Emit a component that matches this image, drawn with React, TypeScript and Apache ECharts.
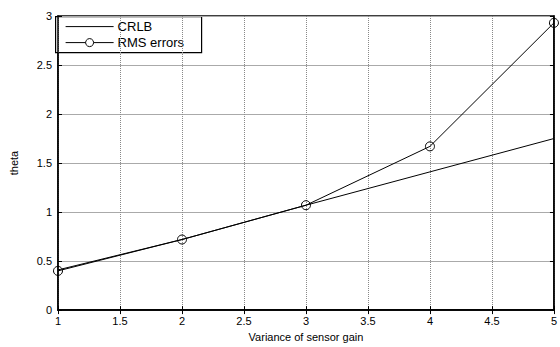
import React, { useEffect, useRef } from "react";
import * as echarts from "echarts";

const xValues = [1, 2, 3, 4, 5];
const crlb = [0.41, 0.72, 1.07, 1.41, 1.75];
const rmsErrors = [0.4, 0.72, 1.07, 1.67, 2.93];
const seriesNames = ["CRLB", "RMS errors"];
const xTitle = "Variance of sensor gain";
const yTitle = "theta";

const FONT = "'Liberation Sans', Arial, sans-serif";

export default function App() {
  const ref = useRef<HTMLDivElement>(null);
  useEffect(() => {
    if (!ref.current) return;
    const chart = echarts.init(ref.current, null, { renderer: "svg" });
    const pair = (ys: number[]) => xValues.map((x, i) => [x, ys[i]]);
    const tickStyle = { inside: true, length: 4, lineStyle: { color: "#000", width: 1 } };
    const legendX = 55;
    const legendY = 16;
    chart.setOption({
      animation: false,
      backgroundColor: "#fff",
      textStyle: { fontFamily: FONT },
      grid: {
        left: 55,
        right: 3,
        top: 16,
        bottom: 33,
        show: true,
        borderColor: "#000",
        borderWidth: 1.5,
        backgroundColor: "#fff",
      },
      graphic: [
        {
          type: "group",
          left: legendX,
          top: legendY,
          z: 100,
          children: [
            {
              type: "rect",
              shape: { x: 0, y: 0, width: 146, height: 36 },
              style: { fill: "#fff", stroke: "#000", lineWidth: 1.2 },
            },
            {
              type: "line",
              shape: { x1: 10, y1: 10, x2: 58, y2: 10 },
              style: { stroke: "#000", lineWidth: 1 },
            },
            {
              type: "text",
              x: 62,
              y: 10,
              style: {
                text: seriesNames[0],
                fontFamily: FONT,
                fontSize: 13,
                fill: "#000",
                verticalAlign: "middle",
              },
            },
            {
              type: "line",
              shape: { x1: 10, y1: 26, x2: 58, y2: 26 },
              style: { stroke: "#000", lineWidth: 1 },
            },
            {
              type: "circle",
              shape: { cx: 34, cy: 26, r: 4 },
              style: { fill: "#fff", stroke: "#000", lineWidth: 1 },
            },
            {
              type: "text",
              x: 62,
              y: 26,
              style: {
                text: seriesNames[1],
                fontFamily: FONT,
                fontSize: 13,
                fill: "#000",
                verticalAlign: "middle",
              },
            },
          ],
        },
      ],
      xAxis: [
        {
          type: "value",
          min: 1,
          max: 5,
          interval: 0.5,
          name: xTitle,
          nameLocation: "middle",
          nameGap: 14,
          nameTextStyle: { fontFamily: FONT, fontSize: 11, color: "#000" },
          axisLine: { show: true, lineStyle: { color: "#000", width: 1.5 } },
          axisTick: tickStyle,
          axisLabel: { fontFamily: FONT, fontSize: 11, color: "#000", margin: 5 },
          splitLine: { show: true, lineStyle: { color: "#888", type: "dotted", width: 1 } },
        },
        {
          type: "value",
          position: "top",
          min: 1,
          max: 5,
          interval: 0.5,
          axisLine: { show: true, lineStyle: { color: "#000", width: 1.5 } },
          axisTick: tickStyle,
          axisLabel: { show: false },
          splitLine: { show: false },
        },
      ],
      yAxis: [
        {
          type: "value",
          min: 0,
          max: 3,
          interval: 0.5,
          name: yTitle,
          nameLocation: "middle",
          nameGap: 39,
          nameTextStyle: { fontFamily: FONT, fontSize: 11, color: "#000" },
          axisLine: { show: true, lineStyle: { color: "#000", width: 1.5 } },
          axisTick: tickStyle,
          axisLabel: { fontFamily: FONT, fontSize: 11, color: "#000", margin: 6 },
          splitLine: { show: true, lineStyle: { color: "#aaa", type: "solid", width: 1 } },
        },
        {
          type: "value",
          position: "right",
          min: 0,
          max: 3,
          interval: 0.5,
          axisLine: { show: true, lineStyle: { color: "#000", width: 1.5 } },
          axisTick: tickStyle,
          axisLabel: { show: false },
          splitLine: { show: false },
        },
      ],
      series: [
        {
          name: seriesNames[0],
          type: "line",
          data: pair(crlb),
          symbol: "none",
          lineStyle: { color: "#000", width: 1 },
          itemStyle: { color: "#000" },
          z: 3,
        },
        {
          name: seriesNames[1],
          type: "line",
          data: pair(rmsErrors),
          symbol: "circle",
          symbolSize: 9,
          lineStyle: { color: "#000", width: 1 },
          itemStyle: { color: "rgba(0,0,0,0)", borderColor: "#000", borderWidth: 1 },
          z: 4,
        },
      ],
    });
    return () => chart.dispose();
  }, []);
  return <div ref={ref} style={{ width: 560, height: 347, position: "absolute", left: 0, top: 0 }} />;
}
